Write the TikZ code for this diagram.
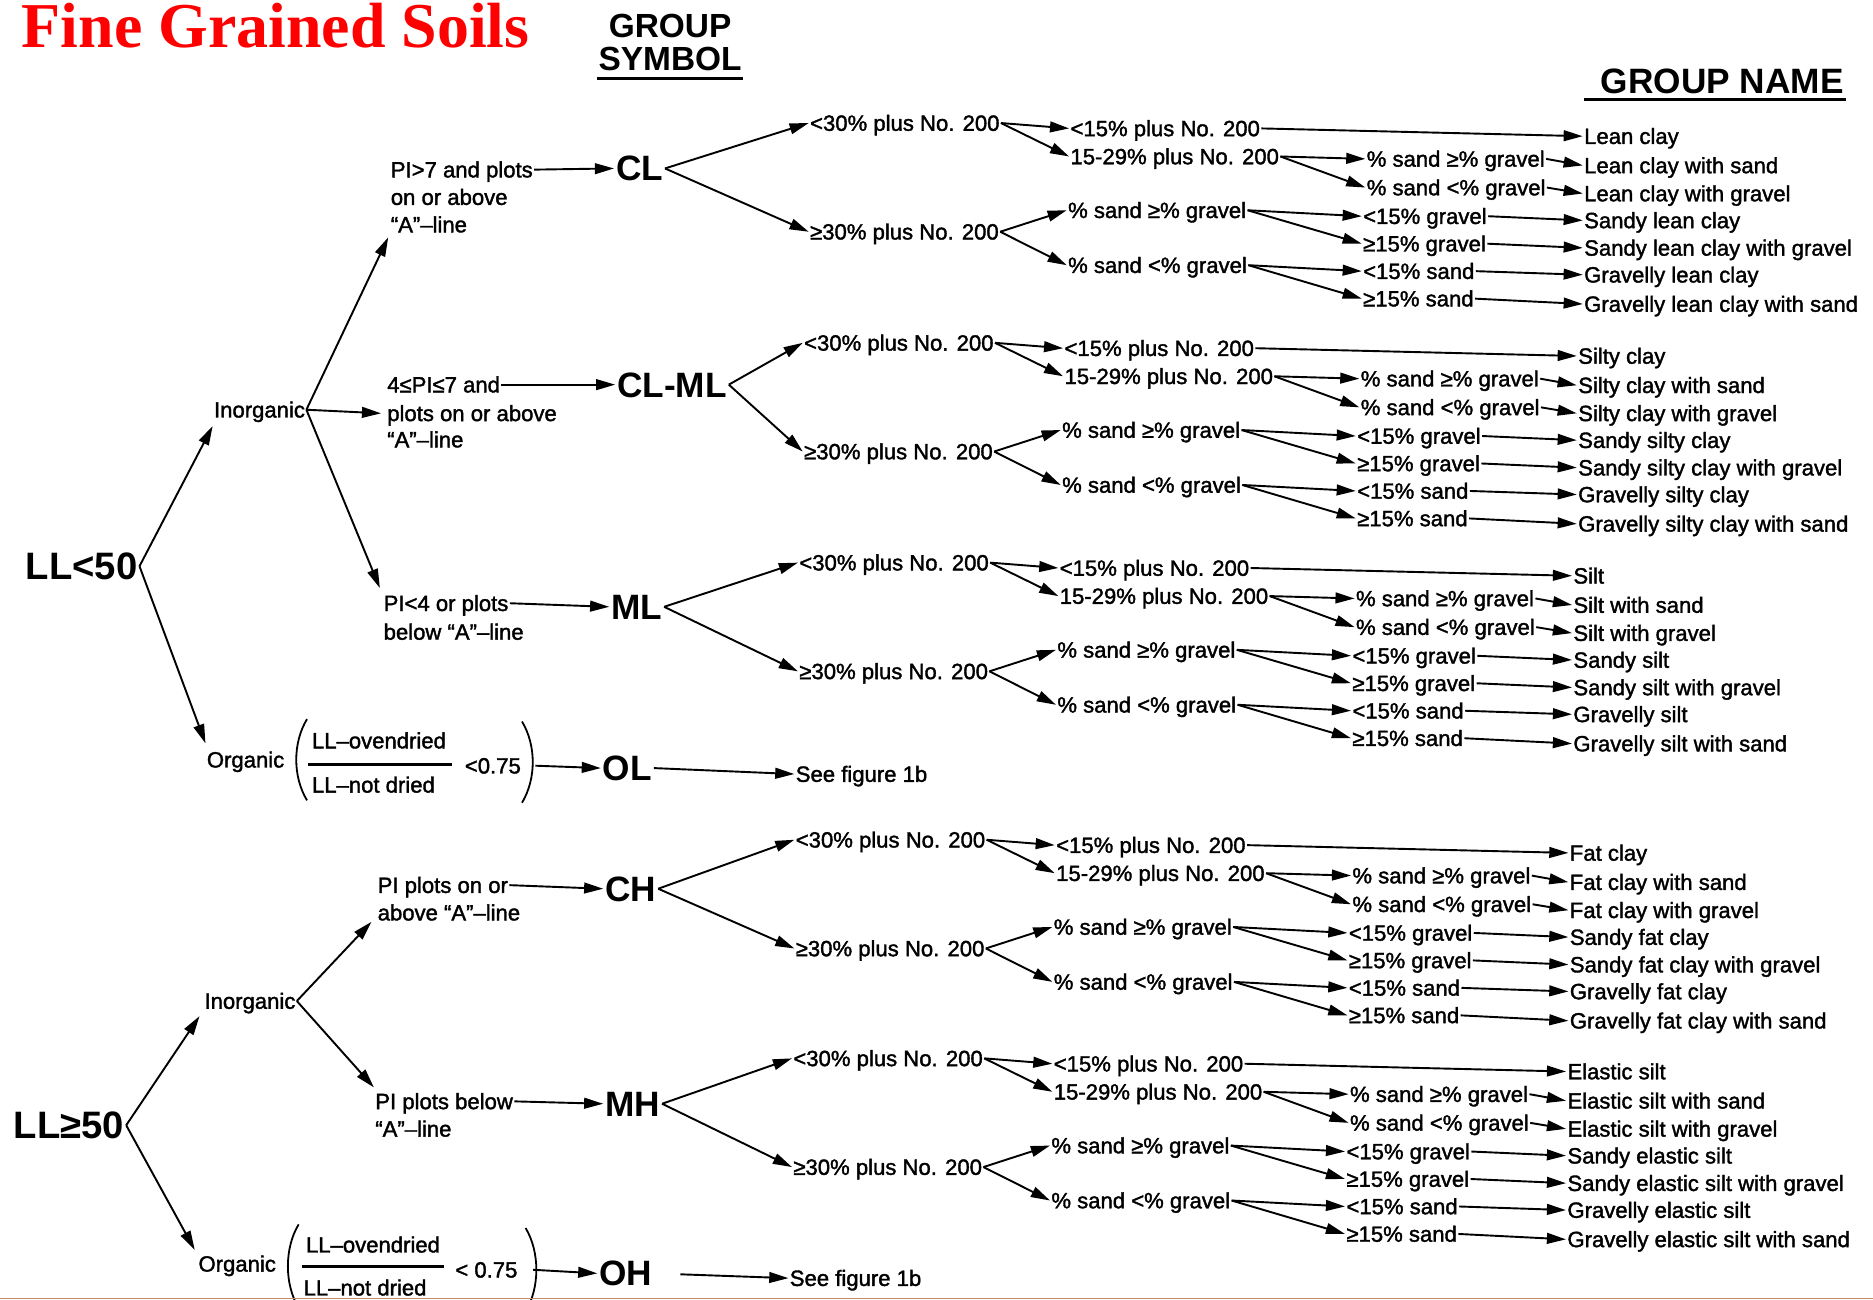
\documentclass[tikz,border=0pt]{standalone}
\usepackage{fontspec}
\setmainfont{Liberation Sans}
\newfontfamily\txtfont{Liberation Sans}[FakeBold=1.6]
\newfontfamily\titlefont{Liberation Serif}
\usetikzlibrary{arrows.meta}
\definecolor{edgeline}{RGB}{190,140,110}
\tikzset{
  txt/.style={anchor=west, inner sep=1pt, font=\txtfont\fontsize{18.5}{20}\selectfont, text height=13pt, text depth=0pt},
  sym/.style={anchor=west, inner sep=1.5pt, font=\fontsize{29.5}{31}\selectfont\bfseries, text height=21pt, text depth=0pt},
  big/.style={anchor=west, inner sep=1.5pt, font=\fontsize{32}{34}\selectfont\bfseries, text height=23pt, text depth=0pt},
  head/.style={inner sep=0pt, font=\fontsize{28}{30}\selectfont\bfseries},
  arr/.style={line width=1.6pt, -{Triangle[length=16pt,width=9pt]}},
  ln/.style={line width=1.5pt},
}
\newcommand\soilblock[9]{%
  \node[txt] (#1a1) at (0,0) {<30\% plus No. 200};
  \node[txt] (#1a2) at (0,91) {≥30\% plus No. 200};
  \node[txt] (#1b1) at (218,4.5) {<15\% plus No. 200};
  \node[txt] (#1b2) at (218,28) {15-29\% plus No. 200};
  \node[txt] (#1b3) at (216,73) {\% sand ≥\% gravel};
  \node[txt] (#1b4) at (216,119) {\% sand <\% gravel};
  \node[txt] (#1c1) at (466,30) {\% sand ≥\% gravel};
  \node[txt] (#1c2) at (466,54) {\% sand <\% gravel};
  \node[txt] (#1c3) at (463,78) {<15\% gravel};
  \node[txt] (#1c4) at (463,101) {≥15\% gravel};
  \node[txt] (#1c5) at (463,124) {<15\% sand};
  \node[txt] (#1c6) at (463,147) {≥15\% sand};
  \node[txt] (#1n1) at (648,11) {#3};
  \node[txt] (#1n2) at (648,35.5) {#4};
  \node[txt] (#1n3) at (648,59) {#5};
  \node[txt] (#1n4) at (648,81.5) {#6};
  \node[txt] (#1n5) at (648,104.5) {#7};
  \node[txt] (#1n6) at (648,127) {#8};
  \node[txt] (#1n7) at (648,151.5) {#9};
  \draw[arr] (#2.east) -- (#1a1.west);
  \draw[arr] (#2.east) -- (#1a2.west);
  \draw[arr] (#1a1.east) -- (#1b1.west);
  \draw[arr] (#1a1.east) -- (#1b2.west);
  \draw[arr] (#1a2.east) -- (#1b3.west);
  \draw[arr] (#1a2.east) -- (#1b4.west);
  \draw[arr] (#1b2.east) -- (#1c1.west);
  \draw[arr] (#1b2.east) -- (#1c2.west);
  \draw[arr] (#1b3.east) -- (#1c3.west);
  \draw[arr] (#1b3.east) -- (#1c4.west);
  \draw[arr] (#1b4.east) -- (#1c5.west);
  \draw[arr] (#1b4.east) -- (#1c6.west);
  \draw[arr] (#1b1.east) -- (#1n1.west);
  \draw[arr] (#1c1.east) -- (#1n2.west);
  \draw[arr] (#1c2.east) -- (#1n3.west);
  \draw[arr] (#1c3.east) -- (#1n4.west);
  \draw[arr] (#1c4.east) -- (#1n5.west);
  \draw[arr] (#1c5.east) -- (#1n6.west);
  \draw[arr] (#1c6.east) -- (#1n7.west);
}
\begin{document}
\begin{tikzpicture}[x=1pt,y=-1pt]
\fill[white] (0,0) rectangle (1568,1088);
\useasboundingbox (0,0) rectangle (1568,1088);
\begin{scope}
\clip (0,0) rectangle (1568,1088);
% title and headers
\node[anchor=base west, inner sep=0pt, text=red, font=\titlefont\fontsize{53.5}{56}\selectfont\bfseries] (title) at (18,40) {Fine Grained Soils};
\node[head] (gs1) at (561,22) {GROUP};
\node[head] (gs2) at (561,49) {SYMBOL};
\draw[line width=2.5pt] (500,66) -- (622,66);
\node[head, anchor=west, font=\fontsize{29.5}{31}\selectfont\bfseries] (gn) at (1340,68) {GROUP NAME};
\draw[line width=2.5pt] (1326,83) -- (1545,83);

% left part, LL<50
\node[big] (ll1) at (20,474) {LL<50};
\node[txt] (inorg1) at (178,343) {Inorganic};
\node[txt] (org1) at (172,636) {Organic};
\draw[arr] (ll1.east) -- ([yshift=-6pt]inorg1.south west);
\draw[arr] (ll1.east) -- ([yshift=6pt]org1.north west);

\node[txt] (pi7a) at (326,142) {PI>7 and plots};
\node[txt] (pi7b) at (326,165) {on or above};
\node[txt] (pi7c) at (326,188) {“A”–line};
\node[txt] (pm7a) at (323,322) {4≤PI≤7 and};
\node[txt] (pm7b) at (323,346) {plots on or above};
\node[txt] (pm7c) at (323,368) {“A”–line};
\node[txt] (pi4a) at (320,505) {PI<4 or plots};
\node[txt] (pi4b) at (320,529) {below “A”–line};
\draw[arr] (inorg1.east) -- ([yshift=-3pt,xshift=-1pt]pi7c.south west);
\draw[arr] (inorg1.east) -- ([xshift=-4pt]pm7b.west);
\draw[arr] (inorg1.east) -- ([yshift=5pt,xshift=-2pt]pi4a.north west);

\node[sym] (CL) at (514,141) {CL};
\node[sym] (CLML) at (515,322) {CL-ML};
\node[sym] (ML) at (510,508) {ML};
\draw[arr] (pi7a.east) -- (CL.west);
\draw[arr] (pm7a.east) -- (CLML.west);
\draw[arr] (pi4a.east) -- (ML.west);

% organic LL<50
\node[txt] (ov1) at (260,620) {LL–ovendried};
\node[txt] (nd1) at (260,657) {LL–not dried};
\node[txt] (lt1) at (388,641) {<0.75};
\draw[line width=2.6pt] (258,640) -- (378,640);
\draw[ln] (257,602) .. controls (245,622) and (245,650) .. (257,670);
\draw[ln] (437,604) .. controls (449,624) and (449,652) .. (437,672);
\node[sym] (OL) at (503,643) {OL};
\node[txt] (see1) at (665,648) {See figure 1b};
\draw[arr] ([xshift=11pt]lt1.east) -- (OL.west);
\draw[arr] (OL.east) -- (see1.west);

% LL>=50
\node[big] (ll2) at (10,942) {LL≥50};
\node[txt] (inorg2) at (170,838) {Inorganic};
\node[txt] (org2) at (165,1058) {Organic};
\draw[arr] (ll2.east) -- ([yshift=-5pt,xshift=-3pt]inorg2.south west);
\draw[arr] (ll2.east) -- ([yshift=4pt,xshift=-2pt]org2.north west);

\node[txt] (cha) at (315,741) {PI plots on or};
\node[txt] (chb) at (315,764) {above “A”–line};
\node[txt] (mha) at (313,922) {PI plots below};
\node[txt] (mhb) at (313,945) {“A”–line};
\draw[arr] (inorg2.east) -- ([xshift=-4pt]chb.south west);
\draw[arr] (inorg2.east) -- ([yshift=4pt]mha.north west);

\node[sym] (CH) at (505,744) {CH};
\node[sym] (MH) at (505,924) {MH};
\draw[arr] (cha.east) -- (CH.west);
\draw[arr] (mha.east) -- (MH.west);

% organic LL>=50
\node[txt] (ov2) at (255,1042) {LL–ovendried};
\node[txt] (nd2) at (253,1078) {LL–not dried};
\node[txt] (lt2) at (380,1063) {< 0.75};
\draw[line width=2.6pt] (253,1060) -- (372,1060);
\draw[ln] (250,1025) .. controls (238,1045) and (238,1075) .. (250,1095);
\draw[ln] (440,1028) .. controls (452,1048) and (452,1078) .. (440,1098);
\node[sym] (OH) at (500,1066) {OH};
\node[txt] (see2) at (660,1070) {See figure 1b};
\draw[arr] ([xshift=12pt]lt2.east) -- (OH.west);
\draw[arr, shorten <=22pt] (OH.east) -- (see2.west);

% blocks
\begin{scope}[shift={(677,103)}]
\soilblock{cl}{CL}{Lean clay}{Lean clay with sand}{Lean clay with gravel}{Sandy lean clay}{Sandy lean clay with gravel}{Gravelly lean clay}{Gravelly lean clay with sand}
\end{scope}
\begin{scope}[shift={(672,287)}]
\soilblock{clml}{CLML}{Silty clay}{Silty clay with sand}{Silty clay with gravel}{Sandy silty clay}{Sandy silty clay with gravel}{Gravelly silty clay}{Gravelly silty clay with sand}
\end{scope}
\begin{scope}[shift={(668,471)}]
\soilblock{ml}{ML}{Silt}{Silt with sand}{Silt with gravel}{Sandy silt}{Sandy silt with gravel}{Gravelly silt}{Gravelly silt with sand}
\end{scope}
\begin{scope}[shift={(665,703)}]
\soilblock{ch}{CH}{Fat clay}{Fat clay with sand}{Fat clay with gravel}{Sandy fat clay}{Sandy fat clay with gravel}{Gravelly fat clay}{Gravelly fat clay with sand}
\end{scope}
\begin{scope}[shift={(663,886)}]
\soilblock{mh}{MH}{Elastic silt}{Elastic silt with sand}{Elastic silt with gravel}{Sandy elastic silt}{Sandy elastic silt with gravel}{Gravelly elastic silt}{Gravelly elastic silt with sand}
\end{scope}

\draw[line width=1.5pt, edgeline] (0,1087) -- (1568,1087);
\end{scope}
\end{tikzpicture}
\end{document}
